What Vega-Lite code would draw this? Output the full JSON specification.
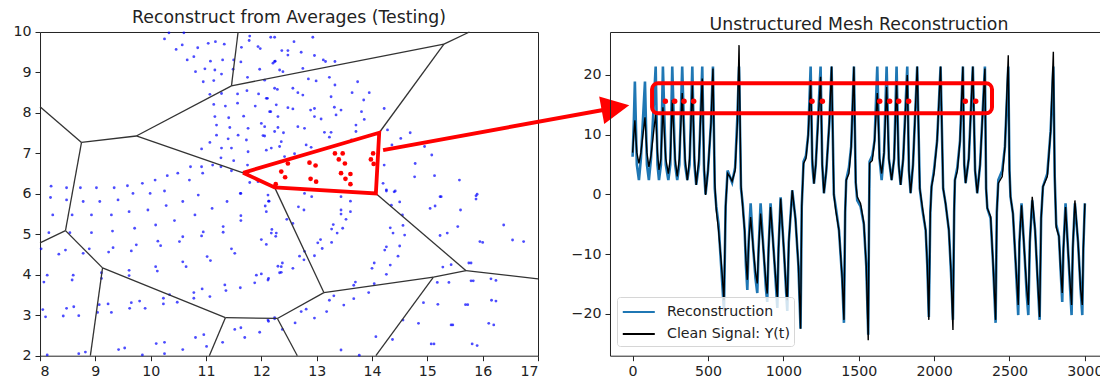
{
"$schema": "https://vega.github.io/schema/vega-lite/v6.json",
"padding": {"left": 12, "top": 8, "right": 0, "bottom": 0},
"bounds": "flush",
"spacing": 72,
"config": {
  "font": "DejaVu Sans",
  "view": {"stroke": "#222", "strokeWidth": 1},
  "axis": {"domain": false, "grid": false, "ticks": true, "tickColor": "#222", "tickSize": 5, "labelFontSize": 14.2, "labelColor": "#222", "labelPadding": 4, "labelFont": "DejaVu Sans", "format": "d"},
  "title": {"fontSize": 17.3, "fontWeight": "normal", "color": "#222", "offset": -1.6, "baseline": "alphabetic", "font": "DejaVu Sans"}
},
"datasets": {
  "pts": [
    {"x":10.25,"y":9.83},{"x":10.33,"y":9.98},{"x":10.60,"y":9.98},{"x":10.46,"y":9.57},{"x":10.57,"y":9.68},{"x":10.85,"y":9.61},{"x":11.04,"y":9.72},{"x":11.17,"y":9.76},{"x":11.33,"y":9.70},{"x":10.78,"y":9.39},{"x":10.66,"y":9.31},{"x":11.08,"y":9.28},{"x":11.30,"y":9.31},{"x":10.81,"y":9.02},{"x":10.98,"y":9.09},{"x":11.16,"y":9.06},{"x":11.28,"y":8.96},{"x":10.95,"y":8.77},{"x":11.14,"y":8.80},{"x":11.50,"y":9.31},{"x":11.49,"y":9.08},{"x":11.63,"y":9.26},{"x":11.64,"y":9.62},{"x":11.79,"y":9.90},{"x":11.78,"y":9.79},{"x":11.94,"y":9.64},{"x":11.98,"y":9.59},{"x":12.17,"y":9.87},{"x":12.24,"y":9.27},{"x":11.97,"y":9.08},{"x":11.75,"y":8.88},{"x":12.06,"y":8.81},{"x":12.33,"y":9.06},
    {"x":11.07,"y":8.46},{"x":11.28,"y":8.48},{"x":11.57,"y":8.47},{"x":11.74,"y":8.55},{"x":11.95,"y":8.47},{"x":12.11,"y":8.36},{"x":11.14,"y":8.21},{"x":11.35,"y":8.17},{"x":11.57,"y":8.24},{"x":11.89,"y":8.17},{"x":12.15,"y":8.03},{"x":11.16,"y":7.91},{"x":11.41,"y":7.88},{"x":11.68,"y":7.92},{"x":11.19,"y":7.70},{"x":11.43,"y":7.64},{"x":11.76,"y":7.62},{"x":12.06,"y":7.66},{"x":12.24,"y":7.54},{"x":11.19,"y":7.45},{"x":11.40,"y":7.36},{"x":11.58,"y":7.45},{"x":11.73,"y":7.33},{"x":12.03,"y":7.44},{"x":11.07,"y":7.27},{"x":11.28,"y":7.13},{"x":11.46,"y":7.13},{"x":11.76,"y":7.04},{"x":12.09,"y":7.08},{"x":12.33,"y":7.17},{"x":10.92,"y":7.11},{"x":11.27,"y":6.89},{"x":11.50,"y":6.82},{"x":11.75,"y":6.71},
    {"x":8.20,"y":6.19},{"x":8.48,"y":6.15},{"x":8.73,"y":6.15},{"x":9.02,"y":6.15},{"x":9.34,"y":6.15},{"x":9.58,"y":6.20},{"x":9.85,"y":6.26},{"x":10.08,"y":6.34},{"x":10.30,"y":6.45},{"x":10.49,"y":6.51},{"x":10.70,"y":6.34},{"x":10.94,"y":6.51},{"x":11.12,"y":6.71},{"x":11.27,"y":6.67},{"x":11.46,"y":6.57},{"x":11.79,"y":6.28},{"x":11.94,"y":6.30},{"x":11.62,"y":6.01},{"x":10.72,"y":6.67},{"x":10.92,"y":6.67},
    {"x":8.19,"y":5.91},{"x":8.48,"y":5.85},{"x":8.78,"y":5.81},{"x":9.08,"y":5.81},{"x":9.41,"y":5.85},{"x":9.68,"y":6.01},{"x":9.99,"y":6.01},{"x":10.25,"y":6.07},{"x":10.58,"y":5.81},{"x":10.86,"y":5.97},{"x":11.11,"y":5.64},{"x":11.38,"y":5.81},{"x":11.63,"y":6.01},{"x":12.12,"y":5.97},{"x":12.14,"y":5.82},{"x":8.23,"y":5.48},{"x":8.58,"y":5.48},{"x":8.93,"y":5.48},{"x":9.29,"y":5.48},{"x":9.61,"y":5.56},{"x":9.95,"y":5.60},{"x":10.28,"y":5.71},{"x":10.43,"y":5.34},{"x":10.80,"y":5.48},{"x":11.63,"y":5.46},{"x":11.63,"y":5.34},{"x":12.07,"y":5.70},{"x":12.09,"y":5.56},{"x":8.16,"y":5.04},{"x":8.54,"y":5.04},{"x":8.93,"y":5.04},{"x":9.31,"y":5.08},{"x":9.71,"y":5.15},{"x":10.09,"y":5.23},{"x":11.31,"y":5.19},{"x":11.31,"y":5.05},{"x":10.52,"y":4.82},{"x":10.58,"y":4.94},{"x":10.95,"y":5.06},{"x":10.92,"y":4.96},{"x":10.13,"y":4.83},{"x":10.18,"y":4.72},{"x":9.74,"y":4.74},{"x":9.65,"y":4.59},{"x":9.32,"y":4.67},{"x":9.24,"y":4.56},{"x":8.89,"y":4.64},{"x":8.78,"y":4.53},{"x":8.02,"y":4.64},{"x":8.46,"y":4.61},{"x":8.34,"y":4.51},{"x":12.18,"y":5.03},{"x":12.26,"y":4.95},{"x":12.00,"y":4.87},{"x":12.09,"y":4.75},{"x":11.46,"y":4.64},{"x":11.52,"y":4.53},{"x":11.02,"y":4.45},{"x":11.08,"y":4.35},{"x":10.58,"y":4.32},{"x":10.64,"y":4.20},{"x":10.09,"y":4.20},{"x":10.12,"y":4.09},{"x":9.61,"y":4.11},{"x":9.61,"y":3.98},{"x":9.11,"y":4.05},{"x":9.11,"y":3.91},{"x":8.13,"y":3.99},{"x":8.07,"y":3.82},{"x":8.60,"y":3.99},{"x":8.58,"y":3.87},{"x":12.36,"y":4.20},{"x":12.33,"y":4.05},{"x":12.00,"y":4.02},{"x":11.91,"y":3.99},{"x":12.12,"y":3.87},{"x":11.88,"y":3.80},{"x":11.62,"y":3.68},{"x":11.34,"y":3.75},{"x":11.36,"y":3.61},{"x":10.93,"y":3.65},{"x":10.78,"y":3.56},{"x":10.78,"y":3.42},{"x":11.07,"y":3.46},{"x":10.34,"y":3.51},{"x":10.23,"y":3.42},{"x":10.23,"y":3.28},{"x":10.48,"y":3.32},{"x":9.80,"y":3.35},{"x":9.65,"y":3.31},{"x":9.62,"y":3.17},{"x":9.90,"y":3.17},{"x":9.23,"y":3.28},{"x":9.07,"y":3.26},{"x":9.04,"y":3.07},{"x":9.29,"y":3.07},{"x":8.05,"y":3.14},{"x":8.10,"y":2.96},{"x":8.48,"y":3.17},{"x":8.42,"y":2.98},{"x":8.61,"y":3.21},{"x":8.70,"y":2.99},{"x":11.30,"y":2.33},{"x":11.52,"y":2.65},{"x":11.63,"y":2.69},{"x":11.70,"y":2.45},{"x":11.97,"y":2.58},{"x":12.12,"y":2.88},{"x":12.24,"y":2.94},{"x":10.81,"y":2.45},{"x":10.96,"y":2.52},{"x":11.01,"y":2.23},{"x":10.58,"y":2.15},{"x":10.10,"y":2.30},{"x":10.25,"y":2.33},{"x":10.25,"y":2.05},{"x":9.42,"y":2.15},{"x":9.53,"y":2.19},{"x":9.85,"y":2.02},{"x":8.70,"y":2.05},{"x":8.82,"y":2.09},{"x":8.13,"y":2.02},
    {"x":12.13,"y":5.82},{"x":12.78,"y":6.01},{"x":12.91,"y":5.93},{"x":13.44,"y":5.93},{"x":13.61,"y":5.82},{"x":13.44,"y":5.60},{"x":13.44,"y":5.50},{"x":13.61,"y":5.56},{"x":13.53,"y":5.37},{"x":12.67,"y":5.68},{"x":12.77,"y":5.60},{"x":12.46,"y":5.37},{"x":12.57,"y":5.27},{"x":12.19,"y":5.12},{"x":12.27,"y":5.03},{"x":13.30,"y":5.24},{"x":13.27,"y":5.13},{"x":13.37,"y":5.03},{"x":13.47,"y":5.15},{"x":13.07,"y":4.87},{"x":13.02,"y":4.79},{"x":13.27,"y":4.80},{"x":13.10,"y":4.65},{"x":12.78,"y":4.58},{"x":12.77,"y":4.37},{"x":12.69,"y":4.46},{"x":12.96,"y":4.47},{"x":12.38,"y":4.29},{"x":12.30,"y":4.21},{"x":12.36,"y":4.06},{"x":12.57,"y":4.16},{"x":12.13,"y":3.91},{"x":14.04,"y":4.29},{"x":14.00,"y":4.16},{"x":14.26,"y":4.01},{"x":14.33,"y":4.24},{"x":14.47,"y":4.46},{"x":14.26,"y":4.69},{"x":14.23,"y":4.61},{"x":14.50,"y":4.71},{"x":14.38,"y":5.03},{"x":14.33,"y":5.16},{"x":14.56,"y":5.22},{"x":14.59,"y":4.98},{"x":14.50,"y":5.80},{"x":14.35,"y":5.72},{"x":14.42,"y":6.07},{"x":14.26,"y":6.07},{"x":14.55,"y":5.48},{"x":15.23,"y":5.93},{"x":15.05,"y":5.64},{"x":15.14,"y":5.70},{"x":15.60,"y":5.60},{"x":15.88,"y":5.95},{"x":15.88,"y":5.87},{"x":15.55,"y":5.19},{"x":15.23,"y":4.97},{"x":15.36,"y":5.03},{"x":15.95,"y":4.82},{"x":16.00,"y":4.80},{"x":16.38,"y":5.23},{"x":16.54,"y":4.86},{"x":16.74,"y":4.82},{"x":15.28,"y":4.19},{"x":15.43,"y":4.25},{"x":15.75,"y":4.29},{"x":15.79,"y":4.29},{"x":16.15,"y":3.90},{"x":16.24,"y":3.86},{"x":13.70,"y":3.82},{"x":13.67,"y":3.74},{"x":14.04,"y":3.78},{"x":13.94,"y":3.56},{"x":13.67,"y":3.41},{"x":13.23,"y":3.37},{"x":13.31,"y":3.48},{"x":13.49,"y":3.25},{"x":12.81,"y":3.15},{"x":12.72,"y":3.09},{"x":13.18,"y":3.09},{"x":12.96,"y":2.93},{"x":12.61,"y":2.81},{"x":12.13,"y":2.85},{"x":12.24,"y":2.91},{"x":12.38,"y":2.65},{"x":13.44,"y":2.14},{"x":13.77,"y":2.01},{"x":14.07,"y":2.47},{"x":14.37,"y":2.40},{"x":14.56,"y":2.88},{"x":14.93,"y":3.31},{"x":15.19,"y":3.27},{"x":14.84,"y":2.80},{"x":15.18,"y":3.81},{"x":15.39,"y":3.81},{"x":15.79,"y":3.85},{"x":15.83,"y":3.85},{"x":15.43,"y":2.76},{"x":15.46,"y":2.76},{"x":15.69,"y":3.26},{"x":15.73,"y":3.26},{"x":16.16,"y":3.37},{"x":16.24,"y":3.35},{"x":16.11,"y":2.80},{"x":16.20,"y":2.76},{"x":15.07,"y":2.29},{"x":15.12,"y":2.29},{"x":15.81,"y":2.29},{"x":15.90,"y":2.25},
    {"x":12.24,"y":9.87},{"x":12.59,"y":9.76},{"x":12.93,"y":9.87},{"x":12.37,"y":9.54},{"x":12.48,"y":9.54},{"x":12.48,"y":9.43},{"x":12.72,"y":9.50},{"x":12.96,"y":9.42},{"x":13.12,"y":9.31},{"x":13.16,"y":9.27},{"x":13.33,"y":9.27},{"x":12.21,"y":9.23},{"x":12.25,"y":9.28},{"x":12.39,"y":9.02},{"x":12.75,"y":9.10},
    {"x":12.85,"y":8.84},{"x":12.99,"y":8.79},{"x":13.23,"y":8.88},{"x":13.74,"y":8.77},{"x":13.33,"y":8.69},{"x":12.24,"y":8.61},{"x":12.29,"y":8.58},{"x":12.57,"y":8.61},{"x":12.66,"y":8.50},{"x":12.75,"y":8.44},{"x":12.09,"y":8.36},{"x":13.26,"y":8.40},{"x":13.64,"y":8.50},{"x":13.95,"y":8.50},{"x":13.85,"y":8.32},{"x":12.27,"y":8.20},{"x":12.48,"y":8.13},{"x":12.57,"y":8.10},{"x":12.89,"y":8.07},{"x":12.96,"y":8.11},{"x":13.32,"y":8.14},{"x":13.44,"y":8.07},{"x":13.81,"y":8.03},{"x":14.22,"y":8.11},{"x":12.17,"y":8.03},{"x":12.30,"y":7.91},{"x":12.96,"y":7.91},{"x":13.08,"y":7.85},{"x":13.35,"y":7.95},{"x":13.86,"y":7.84},{"x":12.00,"y":7.74},{"x":12.30,"y":7.64},{"x":12.66,"y":7.66},{"x":12.78,"y":7.62},{"x":13.14,"y":7.52},{"x":13.26,"y":7.52},{"x":13.71,"y":7.70},{"x":13.71,"y":7.54},{"x":12.06,"y":7.43},{"x":12.40,"y":7.51},{"x":12.36,"y":7.29},{"x":12.81,"y":7.21},{"x":12.90,"y":7.15},{"x":13.23,"y":7.40},{"x":13.63,"y":7.33},{"x":12.18,"y":7.13},{"x":12.42,"y":6.92},{"x":12.60,"y":6.99},
    {"x":14.28,"y":7.58},{"x":14.52,"y":7.37},{"x":14.69,"y":7.51},{"x":14.36,"y":7.21},{"x":14.95,"y":7.17},{"x":15.08,"y":6.96},{"x":14.78,"y":6.75},{"x":14.77,"y":6.42},{"x":15.13,"y":6.45},{"x":15.58,"y":6.34},{"x":14.22,"y":6.71},{"x":14.20,"y":6.26},{"x":14.26,"y":6.10},{"x":14.40,"y":6.05},{"x":15.90,"y":5.99},{"x":15.25,"y":5.93}
  ],
  "red": [
    {"x":12.36,"y":6.55},{"x":12.43,"y":6.41},{"x":12.48,"y":6.75},{"x":12.87,"y":6.77},{"x":12.98,"y":6.70},{"x":12.89,"y":6.37},{"x":12.99,"y":6.30},{"x":13.33,"y":7.00},{"x":13.47,"y":7.00},{"x":13.40,"y":6.85},{"x":13.51,"y":6.75},{"x":13.44,"y":6.51},{"x":13.61,"y":6.49},{"x":13.52,"y":6.37},{"x":13.61,"y":6.24},{"x":14.02,"y":7.00},{"x":13.98,"y":6.85},{"x":14.03,"y":6.74},{"x":12.26,"y":6.24}
  ],
  "edges": [
    {"x1":8,"y1":8.15,"x2":8.75,"y2":7.27},
    {"x1":8.75,"y1":7.27,"x2":9.74,"y2":7.43},
    {"x1":8.75,"y1":7.27,"x2":8.46,"y2":5.09},
    {"x1":9.74,"y1":7.43,"x2":11.46,"y2":8.67},
    {"x1":11.46,"y1":8.67,"x2":11.58,"y2":10},
    {"x1":11.46,"y1":8.67,"x2":15.30,"y2":9.70},
    {"x1":15.30,"y1":9.70,"x2":15.76,"y2":10},
    {"x1":15.30,"y1":9.70,"x2":14.13,"y2":7.51},
    {"x1":9.74,"y1":7.43,"x2":11.67,"y2":6.52},
    {"x1":11.67,"y1":6.52,"x2":14.13,"y2":7.51},
    {"x1":14.13,"y1":7.51,"x2":14.07,"y2":6.01},
    {"x1":14.07,"y1":6.01,"x2":12.24,"y2":6.16},
    {"x1":12.24,"y1":6.16,"x2":11.67,"y2":6.52},
    {"x1":12.24,"y1":6.16,"x2":13.13,"y2":3.56},
    {"x1":14.07,"y1":6.01,"x2":15.70,"y2":4.10},
    {"x1":15.70,"y1":4.10,"x2":17,"y2":3.90},
    {"x1":15.70,"y1":4.10,"x2":15.11,"y2":3.94},
    {"x1":15.11,"y1":3.94,"x2":13.13,"y2":3.56},
    {"x1":15.11,"y1":3.94,"x2":14.07,"y2":2},
    {"x1":13.13,"y1":3.56,"x2":12.29,"y2":2.92},
    {"x1":12.29,"y1":2.92,"x2":12.65,"y2":2},
    {"x1":12.29,"y1":2.92,"x2":11.35,"y2":2.94},
    {"x1":11.35,"y1":2.94,"x2":11.06,"y2":2},
    {"x1":11.35,"y1":2.94,"x2":9.13,"y2":4.17},
    {"x1":9.13,"y1":4.17,"x2":8.91,"y2":2},
    {"x1":9.13,"y1":4.17,"x2":8.46,"y2":5.09},
    {"x1":8.46,"y1":5.09,"x2":8,"y2":4.79}
  ],
  "poly": [
    {"o":0,"x":11.67,"y":6.52},{"o":1,"x":14.13,"y":7.51},{"o":2,"x":14.07,"y":6.01},{"o":3,"x":12.24,"y":6.16},{"o":4,"x":11.67,"y":6.52}
  ],
  "arrow": [{"o":0,"x":14.20,"y":7.08},{"o":1,"x":18.40,"y":8.13}],
  "head": [{"x":18.40,"y":8.13}],
  "box": [{"t1":129,"t2":2384,"y1":13.6,"y2":18.6}],
  "dots": [
    {"t":217,"y":15.6},{"t":279,"y":15.6},{"t":341,"y":15.6},{"t":405,"y":15.6},{"t":1190,"y":15.6},{"t":1259,"y":15.6},{"t":1639,"y":15.6},{"t":1705,"y":15.6},{"t":1765,"y":15.6},{"t":1831,"y":15.6},{"t":2207,"y":15.6},{"t":2276,"y":15.6}
  ],
  "sig": [
    {"t":0,"y":7.0,"r":6.3},{"t":8,"y":10,"r":12},{"t":15,"y":12.4,"r":18.9},{"t":28,"y":7,"r":5},{"t":42,"y":5.2,"r":2.4},{"t":55,"y":7,"r":6},{"t":82,"y":12.9,"r":18.9},{"t":95,"y":7,"r":5},{"t":108,"y":4.6,"r":2.4},{"t":122,"y":6.5,"r":6},{"t":153,"y":13.5,"r":21.4},{"t":165,"y":7,"r":5},{"t":175,"y":4.1,"r":2.4},{"t":188,"y":6,"r":5},{"t":201,"y":14.6,"r":21.4},{"t":220,"y":6,"r":5},{"t":237,"y":3.5,"r":2.4},{"t":250,"y":6,"r":5},{"t":263,"y":15.8,"r":21.4},{"t":282,"y":6,"r":5},{"t":296,"y":3.0,"r":2.4},{"t":310,"y":6,"r":5},{"t":329,"y":17.0,"r":21.4},{"t":348,"y":6,"r":5},{"t":363,"y":2.4,"r":2.4},{"t":378,"y":6,"r":5},{"t":396,"y":18.3,"r":21.4},{"t":410,"y":6,"r":5},{"t":422,"y":1.6,"r":1.6},{"t":440,"y":6,"r":5},{"t":462,"y":19.4,"r":21.4},{"t":474,"y":5,"r":4},{"t":484,"y":-0.1,"r":0},{"t":500,"y":4,"r":4},{"t":520,"y":12,"r":12},{"t":533,"y":21.1,"r":21.4},{"t":545,"y":2,"r":1},{"t":555,"y":-2.6,"r":-2},{"t":570,"y":-6,"r":-5},{"t":590,"y":-12,"r":-13},{"t":606,"y":-17.7,"r":-19.4},{"t":617,"y":-2,"r":-2},{"t":630,"y":3.5,"r":4},{"t":645,"y":3,"r":3},{"t":660,"y":2.2,"r":2},{"t":680,"y":4,"r":4.5},{"t":695,"y":12,"r":13},{"t":706,"y":25,"r":21.4},{"t":719,"y":1.5,"r":1},{"t":730,"y":-2,"r":-1.5},{"t":743,"y":-6,"r":-6},{"t":752,"y":-11,"r":-12},{"t":761,"y":-14.3,"r":-16},{"t":770,"y":-8,"r":-8},{"t":783,"y":-3.8,"r":-1.5},{"t":800,"y":-9,"r":-9},{"t":815,"y":-13,"r":-14},{"t":827,"y":-14.9,"r":-16.5},{"t":836,"y":-9,"r":-9},{"t":849,"y":-3.2,"r":-1.5},{"t":870,"y":-10,"r":-10},{"t":885,"y":-15,"r":-16},{"t":893,"y":-16.6,"r":-18},{"t":902,"y":-9,"r":-9},{"t":915,"y":-2.1,"r":-1.5},{"t":940,"y":-11,"r":-11},{"t":955,"y":-16,"r":-17},{"t":960,"y":-17.2,"r":-19},{"t":968,"y":-9,"r":-9},{"t":982,"y":-0.7,"r":-0.5},{"t":1005,"y":-10,"r":-10},{"t":1020,"y":-16.5,"r":-17},{"t":1026,"y":-17.7,"r":-19.5},{"t":1036,"y":-8,"r":-8},{"t":1059,"y":0.7,"r":0.7},{"t":1080,"y":-4,"r":-4},{"t":1100,"y":-12,"r":-12},{"t":1114,"y":-22.5,"r":-22.5},{"t":1122,"y":-2,"r":-2},{"t":1134,"y":5.2,"r":5.5},{"t":1150,"y":6,"r":6.5},{"t":1165,"y":10,"r":10},{"t":1181,"y":19.1,"r":21.4},{"t":1192,"y":6,"r":5},{"t":1203,"y":1.8,"r":1.8},{"t":1215,"y":5,"r":5},{"t":1247,"y":19.7,"r":21.4},{"t":1258,"y":5,"r":5},{"t":1269,"y":0.2,"r":0.2},{"t":1285,"y":4,"r":4},{"t":1305,"y":12,"r":12},{"t":1320,"y":21.4,"r":21.4},{"t":1335,"y":0,"r":0},{"t":1347,"y":-2.6,"r":-2},{"t":1369,"y":-6,"r":-6},{"t":1390,"y":-14,"r":-14},{"t":1402,"y":-21,"r":-21.5},{"t":1410,"y":-3,"r":-3},{"t":1417,"y":2.4,"r":2.4},{"t":1435,"y":3.5,"r":4.5},{"t":1450,"y":8,"r":8},{"t":1468,"y":21.4,"r":21.4},{"t":1480,"y":2,"r":2},{"t":1490,"y":-0.4,"r":-1},{"t":1512,"y":-1.5,"r":-2},{"t":1534,"y":-4.8,"r":-5},{"t":1550,"y":-12,"r":-12},{"t":1563,"y":-24.4,"r":-23.5},{"t":1568,"y":-5,"r":-5},{"t":1572,"y":5.2,"r":5.5},{"t":1590,"y":5.7,"r":6.5},{"t":1605,"y":9,"r":9},{"t":1623,"y":17,"r":21.4},{"t":1638,"y":6,"r":6},{"t":1652,"y":3.5,"r":2.4},{"t":1668,"y":7,"r":7},{"t":1685,"y":18,"r":21.4},{"t":1700,"y":6,"r":6},{"t":1718,"y":2.4,"r":2.4},{"t":1735,"y":6,"r":6},{"t":1751,"y":19,"r":21.4},{"t":1765,"y":5,"r":5},{"t":1778,"y":1.6,"r":1.6},{"t":1795,"y":6,"r":6},{"t":1822,"y":20,"r":21.4},{"t":1833,"y":4,"r":4},{"t":1844,"y":0.2,"r":0.2},{"t":1860,"y":5,"r":5},{"t":1888,"y":21.4,"r":21.4},{"t":1905,"y":1,"r":1},{"t":1922,"y":-2.1,"r":-2.5},{"t":1944,"y":-6,"r":-6},{"t":1955,"y":-12,"r":-12},{"t":1965,"y":-21,"r":-20.5},{"t":1975,"y":-3,"r":-3},{"t":1983,"y":1.3,"r":1.3},{"t":1999,"y":3.5,"r":4},{"t":2020,"y":9,"r":9},{"t":2043,"y":21.4,"r":21.4},{"t":2060,"y":1,"r":1},{"t":2076,"y":-1.5,"r":-1.5},{"t":2098,"y":-6,"r":-6},{"t":2112,"y":-13,"r":-13},{"t":2125,"y":-22.7,"r":-21},{"t":2133,"y":-3,"r":-3},{"t":2138,"y":2.4,"r":2.4},{"t":2154,"y":3.9,"r":4.5},{"t":2172,"y":9,"r":9},{"t":2191,"y":21.4,"r":21.4},{"t":2200,"y":5,"r":5},{"t":2209,"y":1.9,"r":1.9},{"t":2230,"y":6,"r":6},{"t":2257,"y":21.4,"r":21.4},{"t":2272,"y":4,"r":4},{"t":2286,"y":0.2,"r":0.2},{"t":2305,"y":5,"r":5},{"t":2337,"y":21.1,"r":21.4},{"t":2345,"y":1,"r":1},{"t":2353,"y":-2.3,"r":-2.3},{"t":2375,"y":-3.7,"r":-4},{"t":2392,"y":-12,"r":-12},{"t":2408,"y":-21,"r":-21.5},{"t":2416,"y":-3,"r":-3},{"t":2426,"y":1.9,"r":2.4},{"t":2452,"y":3.0,"r":4},{"t":2470,"y":8,"r":8},{"t":2492,"y":23.3,"r":21.4},{"t":2500,"y":4,"r":4},{"t":2507,"y":-0.4,"r":-0.4},{"t":2523,"y":-3.2,"r":-3.2},{"t":2540,"y":-11,"r":-11},{"t":2558,"y":-18.5,"r":-20.2},{"t":2566,"y":-8,"r":-8},{"t":2580,"y":-1.8,"r":-1.5},{"t":2600,"y":-10,"r":-10},{"t":2615,"y":-16,"r":-17},{"t":2625,"y":-18.5,"r":-20.2},{"t":2635,"y":-8,"r":-8},{"t":2651,"y":-0.4,"r":-1},{"t":2670,"y":-6,"r":-6},{"t":2688,"y":-15,"r":-15},{"t":2700,"y":-20.5,"r":-21},{"t":2710,"y":-4,"r":-4},{"t":2722,"y":1.3,"r":1.3},{"t":2751,"y":3.0,"r":3.5},{"t":2773,"y":10.6,"r":10.6},{"t":2791,"y":23.9,"r":21.4},{"t":2800,"y":3,"r":3},{"t":2810,"y":-5.5,"r":-5},{"t":2828,"y":-7,"r":-7},{"t":2840,"y":-13,"r":-13},{"t":2850,"y":-16.5,"r":-18},{"t":2858,"y":-9,"r":-9},{"t":2872,"y":-2.1,"r":-1.5},{"t":2890,"y":-10,"r":-10},{"t":2905,"y":-16,"r":-17},{"t":2912,"y":-18.5,"r":-20.2},{"t":2920,"y":-9,"r":-9},{"t":2934,"y":-1.0,"r":-1.5},{"t":2955,"y":-8,"r":-8},{"t":2972,"y":-16,"r":-16},{"t":2983,"y":-18.5,"r":-20.2},{"t":2990,"y":-9,"r":-9},{"t":3000,"y":-1.5,"r":-1.5}
  ]
},
"hconcat": [
  {
    "width": 498, "height": 323.7,
    "title": "Reconstruct from Averages (Testing)",
    "layer": [
      {"data": {"name": "pts"}, "mark": {"type": "point", "filled": true, "size": 8, "color": "#0000ff", "opacity": 0.7, "strokeWidth": 0},
       "encoding": {
         "x": {"field": "x", "type": "quantitative", "title": null, "scale": {"domain": [8, 17], "nice": false, "zero": false}, "axis": {"values": [8,9,10,11,12,13,14,15,16,17]}},
         "y": {"field": "y", "type": "quantitative", "title": null, "scale": {"domain": [2, 10], "nice": false, "zero": false}, "axis": {"values": [2,3,4,5,6,7,8,9,10]}}
       }},
      {"data": {"name": "edges"}, "mark": {"type": "rule", "color": "#333", "strokeWidth": 1.3},
       "encoding": {"x": {"field": "x1", "type": "quantitative"}, "y": {"field": "y1", "type": "quantitative"}, "x2": {"field": "x2"}, "y2": {"field": "y2"}}},
      {"data": {"name": "poly"}, "mark": {"type": "line", "color": "#ff0000", "strokeWidth": 3.8, "strokeJoin": "miter"},
       "encoding": {"x": {"field": "x", "type": "quantitative"}, "y": {"field": "y", "type": "quantitative"}, "order": {"field": "o"}}},
      {"data": {"name": "red"}, "mark": {"type": "point", "filled": true, "size": 22, "color": "#ff0000", "opacity": 1, "strokeWidth": 0},
       "encoding": {"x": {"field": "x", "type": "quantitative"}, "y": {"field": "y", "type": "quantitative"}}},
      {"data": {"name": "arrow"}, "mark": {"type": "line", "color": "#ff0000", "strokeWidth": 4, "clip": false},
       "encoding": {"x": {"field": "x", "type": "quantitative"}, "y": {"field": "y", "type": "quantitative"}, "order": {"field": "o"}}},
      {"data": {"name": "head"}, "mark": {"type": "point", "filled": true, "shape": "M1,0L-1,-1L-1,1Z", "size": 784, "angle": -10.4, "color": "#ff0000", "opacity": 1, "strokeWidth": 0, "clip": false},
       "encoding": {"x": {"field": "x", "type": "quantitative"}, "y": {"field": "y", "type": "quantitative"}}}
    ]
  },
  {
    "width": 491, "height": 323.7,
    "title": {"text": "Unstructured Mesh Reconstruction", "dx": 3.5},
    "layer": [
      {"data": {"name": "sig"}, "mark": {"type": "line", "strokeWidth": 2.6},
       "encoding": {
         "x": {"field": "t", "type": "quantitative", "title": null, "scale": {"domain": [-150, 3107], "nice": false, "zero": false}, "axis": {"values": [0,500,1000,1500,2000,2500,3000]}},
         "y": {"field": "r", "type": "quantitative", "title": null, "scale": {"domain": [-27, 27.2], "nice": false, "zero": false}, "axis": {"values": [-20,-10,0,10,20]}},
         "color": {"datum": "Reconstruction", "scale": {"domain": ["Reconstruction", "Clean Signal: Y(t)"], "range": ["#1f77b4", "#000000"]},
           "legend": {"orient": "none", "legendX": 577, "legendY": 265, "title": null, "symbolType": "M-0.97,0H2.4", "symbolSize": 361, "symbolStrokeWidth": 2.2, "labelFontSize": 14.2, "labelFont": "DejaVu Sans", "labelColor": "#222", "labelOffset": 24, "padding": 4, "rowPadding": 3, "fillColor": "rgba(255,255,255,0.8)", "strokeColor": "#d6d6d6", "cornerRadius": 3}}
       }},
      {"data": {"name": "sig"}, "mark": {"type": "line", "strokeWidth": 1.4},
       "encoding": {"x": {"field": "t", "type": "quantitative"}, "y": {"field": "y", "type": "quantitative"}, "color": {"datum": "Clean Signal: Y(t)"}}},
      {"data": {"name": "box"}, "mark": {"type": "rect", "filled": false, "color": "#ff0000", "strokeWidth": 4, "cornerRadius": 6},
       "encoding": {"x": {"field": "t1", "type": "quantitative"}, "x2": {"field": "t2"}, "y": {"field": "y1", "type": "quantitative"}, "y2": {"field": "y2"}}},
      {"data": {"name": "dots"}, "mark": {"type": "point", "filled": true, "size": 30, "color": "#ff0000", "opacity": 1, "strokeWidth": 0},
       "encoding": {"x": {"field": "t", "type": "quantitative"}, "y": {"field": "y", "type": "quantitative"}}}
    ]
  }
]
}
